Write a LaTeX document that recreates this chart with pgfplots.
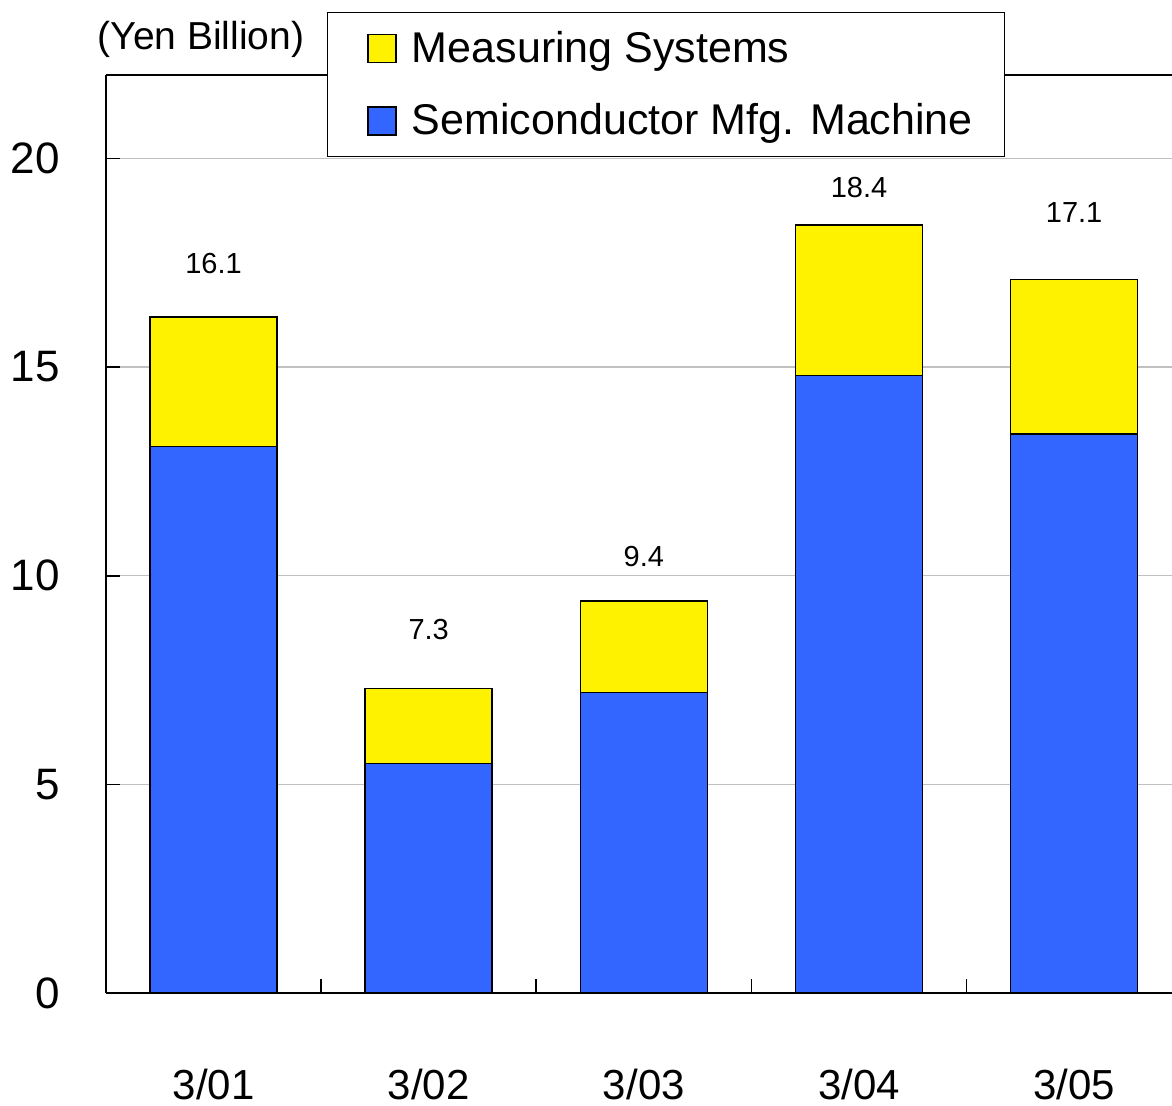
\documentclass[border=0pt]{standalone}
\usepackage{pgfplots}
\pgfplotsset{compat=1.18}
\usepackage{fontspec}
\setmainfont{Liberation Sans}
\definecolor{barblue}{RGB}{51,102,255}
\definecolor{baryellow}{RGB}{255,242,0}
\definecolor{gridgray}{RGB}{192,192,192}
\begin{document}
\begin{tikzpicture}
\begin{axis}[
  scale only axis, width=533pt, height=459pt,
  xmin=-0.5, xmax=4.455, ymin=0, ymax=22,
  ybar stacked, bar width=0.59,
  clip=false,
  axis x line*=box, axis y line*=left,
  axis line style={line width=1pt, black},
  tick pos=left, tick align=inside,
  major tick length=7pt, minor tick length=7pt,
  xtick={0,1,2,3,4}, xticklabels={3/01,3/02,3/03,3/04,3/05},
  minor x tick num=1,
  major x tick style={draw=none},
  minor x tick style={line width=0.8pt, black},
  ytick={0,5,10,15,20},
  ytick style={line width=0.8pt, black},
  ymajorgrids, grid style={gridgray, line width=0.7pt},
  /pgf/number format/assume math mode=true,
  yticklabel style={font=\fontsize{22}{26}\selectfont, xshift=-19.5pt},
  xticklabel style={font=\fontsize{21}{25}\selectfont, yshift=-34.5pt},
  reverse legend,
  legend cell align=left,
  legend style={at={(axis description cs:0.2073,1.0686)}, anchor=north west,
    draw=black, line width=0.5pt, fill=white,
    font=\fontsize{21.5}{25}\selectfont,
    inner xsep=13pt, inner ysep=3.5pt, row sep=7pt,
    nodes={inner xsep=3pt, inner ysep=6pt}},
  legend image code/.code={
    \path (0pt,0pt) (25.5pt,0pt);
    \draw[#1, draw=black, line width=0.9pt] (7pt,-7pt) rectangle (21pt,7pt);
  },
]
\addplot+[fill=barblue, draw=black, line width=0.75pt] coordinates {(0,13.1) (1,5.5) (2,7.2) (3,14.8) (4,13.4)};
\addlegendentry{Semiconductor Mfg. Machine}
\addplot+[fill=baryellow, draw=black, line width=0.75pt] coordinates {(0,3.1) (1,1.8) (2,2.2) (3,3.6) (4,3.7)};
\addlegendentry{Measuring Systems}
\node[font=\fontsize{14.5}{17}\selectfont] at (axis cs:0,17.49) {16.1};
\node[font=\fontsize{14.5}{17}\selectfont] at (axis cs:1,8.72) {7.3};
\node[font=\fontsize{14.5}{17}\selectfont] at (axis cs:2,10.47) {9.4};
\node[font=\fontsize{14.5}{17}\selectfont] at (axis cs:3,19.3) {18.4};
\node[font=\fontsize{14.5}{17}\selectfont] at (axis cs:4,18.7) {17.1};
\end{axis}
\node[font=\fontsize{19.5}{23}\selectfont] at ([xshift=47.5pt,yshift=18pt]current axis.north west) {(Yen Billion)};
\pgfresetboundingbox
\path ([xshift=-53pt,yshift=-56.5pt]current axis.south west) rectangle ([yshift=37.5pt]current axis.north east);
\end{tikzpicture}
\end{document}
